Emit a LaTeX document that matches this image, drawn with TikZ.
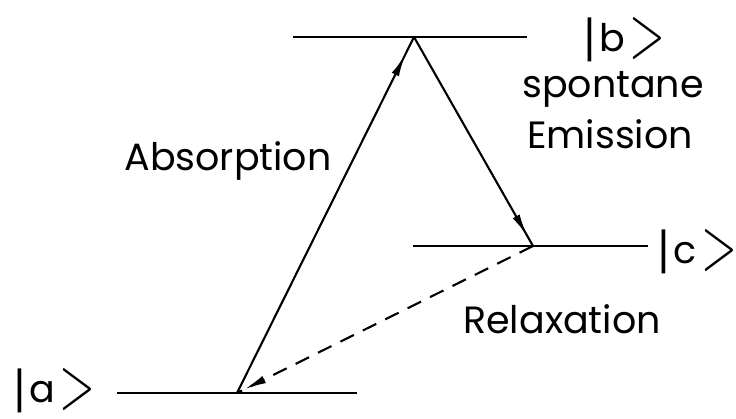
\documentclass[tikz,border=0pt]{standalone}
\usepackage{fontspec}
\newfontfamily\pop{Poppins}
\newfontfamily\dvs{DejaVu Sans}
\usetikzlibrary{arrows.meta,decorations.markings}
\newcommand{\ketsym}[1]{{\dvs\fontsize{44}{44}\selectfont |}\hspace{2pt}#1\hspace{5pt}\raisebox{-6pt}{\scalebox{0.62}[1]{\rmfamily\fontsize{76}{76}\selectfont >}}}
\begin{document}
\begin{tikzpicture}[x=1pt,y=-1pt,
  level/.style={line width=2.8pt},
  trans/.style={line width=2.1pt},
  midtip/.style={postaction={decorate},decoration={markings,
     mark=at position #1 with {\arrow{Latex[length=22pt,width=8pt]}}}},
  lbl/.style={font=\pop\fontsize{38}{40}\selectfont, inner sep=0pt, anchor=base},
  ket/.style={font=\pop\fontsize{38}{40}\selectfont, inner sep=0pt, anchor=base west}]
\useasboundingbox (0,0) rectangle (736,418);
% levels
\coordinate (a1) at (117,393); \coordinate (a2) at (357,393);
\coordinate (b1) at (293,37);  \coordinate (b2) at (527,37);
\coordinate (c1) at (413,246); \coordinate (c2) at (648,246);
\draw[level] (a1) -- (a2);
\draw[level] (b1) -- (b2);
\draw[level] (c1) -- (c2);
% transition points
\coordinate (ta) at (237,393);
\coordinate (tb) at (414,37);
\coordinate (tc) at (533,246);
\draw[trans, midtip=0.95] (ta) -- (tb);
\draw[trans, midtip=0.95] (tb) -- (tc);
\draw[trans, dashed, dash pattern=on 15pt off 10pt, midtip=0.975] (tc) -- (ta);
% labels
\node[ket] (ka) at (12,402) {\ketsym{a}};
\node[ket] (kb) at (582,51) {\ketsym{b}};
\node[ket] (kc) at (656,263) {\ketsym{c}};
\node[lbl] (abs) at (228,170) {Absorption};
\node[lbl] (sp) at (613,97) {spontane};
\node[lbl] (em) at (610,148) {Emission};
\node[lbl] (rel) at (562,333) {Relaxation};
\end{tikzpicture}
\end{document}
